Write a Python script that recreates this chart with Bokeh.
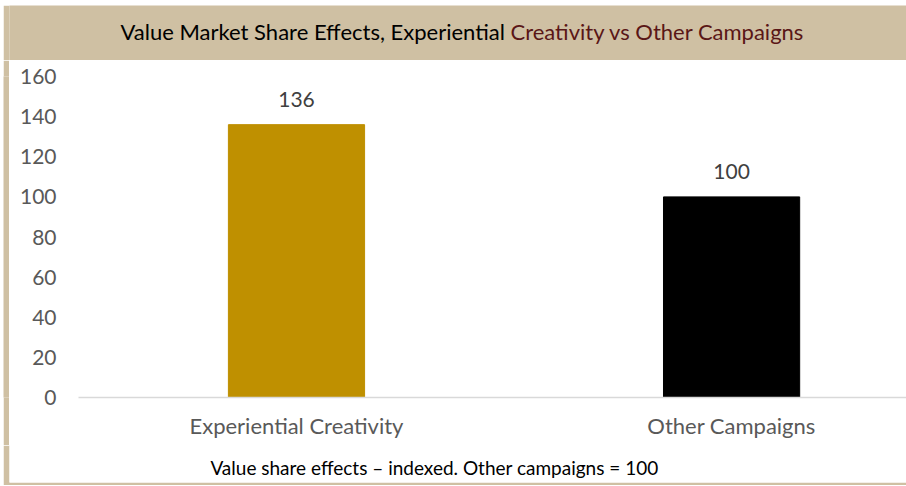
from bokeh.plotting import figure
from bokeh.models import Range1d, Label, ColumnDataSource, FixedTicker, Spacer
from bokeh.layouts import column, row
from bokeh.core.properties import value
from bokeh.embed import file_html
from bokeh.resources import INLINE

categories = ["Experiential Creativity", "Other Campaigns"]
values = [136, 100]
bar_colors = ["#BF9000", "#000000"]
y_ticks = [0, 20, 40, 60, 80, 100, 120, 140, 160]
title_part1 = "Value Market Share Effects, Experiential "
title_part2 = "Creativity vs Other Campaigns"
footer_text = "Value share effects \u2013 indexed. Other campaigns = 100"

FONT = "Lato"
TAN = "#CFC0A3"


def plain(width, height, color, border=None, left_border=0, bottom_border=0):
    f = figure(width=width, height=height, output_backend="svg", toolbar_location=None,
               x_range=Range1d(0, 1), y_range=Range1d(0, 1),
               min_border=0, min_border_left=left_border, min_border_right=0,
               min_border_top=0, min_border_bottom=bottom_border,
               background_fill_color=color, border_fill_color=border or color,
               outline_line_color=None)
    f.axis.visible = False
    f.grid.visible = False
    return f


# header band with two-colour title
header = plain(903, 55, TAN, left_border=6)
header.add_layout(Label(x=501, y=29, x_units="screen", y_units="screen", text=title_part1,
                        text_align="right", text_baseline="middle", text_font=FONT,
                        text_font_size="22px", text_color="#000000"))
header.add_layout(Label(x=501, y=29, x_units="screen", y_units="screen", text=title_part2,
                        text_align="left", text_baseline="middle", text_font=FONT,
                        text_font_size="22px", text_color="#5A1616"))

strip = plain(6, 385, TAN)

# main chart
idx = list(range(len(categories)))
src = ColumnDataSource(dict(x=idx, top=values, color=bar_colors,
                            label=[str(v) for v in values]))

p = figure(width=897, height=385, output_backend="svg", toolbar_location=None,
           x_range=Range1d(-0.501, 1.402), y_range=Range1d(0, 160),
           min_border_left=69, min_border_right=0, min_border_top=16,
           min_border_bottom=48, background_fill_color="white",
           border_fill_color="white", outline_line_color=None)

p.vbar(x="x", top="top", width=0.313, color="color", source=src)
p.text(x="x", y="top", text="label", source=src, text_align="center",
       text_baseline="bottom", y_offset=-18, text_font=value(FONT),
       text_font_size="21px", text_color="#404040")

p.xgrid.visible = False
p.ygrid.visible = False

p.yaxis.ticker = FixedTicker(ticks=y_ticks)
p.yaxis.axis_line_color = None
p.yaxis.major_tick_line_color = None
p.yaxis.minor_tick_line_color = None
p.yaxis.major_tick_out = 0
p.yaxis.major_tick_in = 0
p.yaxis.major_label_standoff = 22
p.yaxis.major_label_text_font = FONT
p.yaxis.major_label_text_font_size = "21px"
p.yaxis.major_label_text_color = "#595959"

p.xaxis.ticker = FixedTicker(ticks=idx)
p.xaxis.major_label_overrides = {i: c for i, c in zip(idx, categories)}
p.xaxis.axis_line_color = "#D9D9D9"
p.xaxis.axis_line_width = 1.5
p.xaxis.major_tick_line_color = None
p.xaxis.minor_tick_line_color = None
p.xaxis.major_tick_out = 0
p.xaxis.major_tick_in = 0
p.xaxis.major_label_standoff = 14
p.xaxis.major_label_text_font = FONT
p.xaxis.major_label_text_font_size = "22px"
p.xaxis.major_label_text_color = "#595959"

# footer note: tan strip continues on the left, thin tan rule along the bottom
footer = plain(903, 40, "white", border=TAN, left_border=6, bottom_border=3)
footer.add_layout(Label(x=425, y=15, x_units="screen", y_units="screen", text=footer_text,
                        text_align="center", text_baseline="middle", text_font=FONT,
                        text_font_size="19px", text_color="#000000"))

layout = row(Spacer(width=3, height=485),
             column(Spacer(width=903, height=5), header, row(strip, p), footer))

open("out.html", "w").write(file_html(layout, INLINE))
